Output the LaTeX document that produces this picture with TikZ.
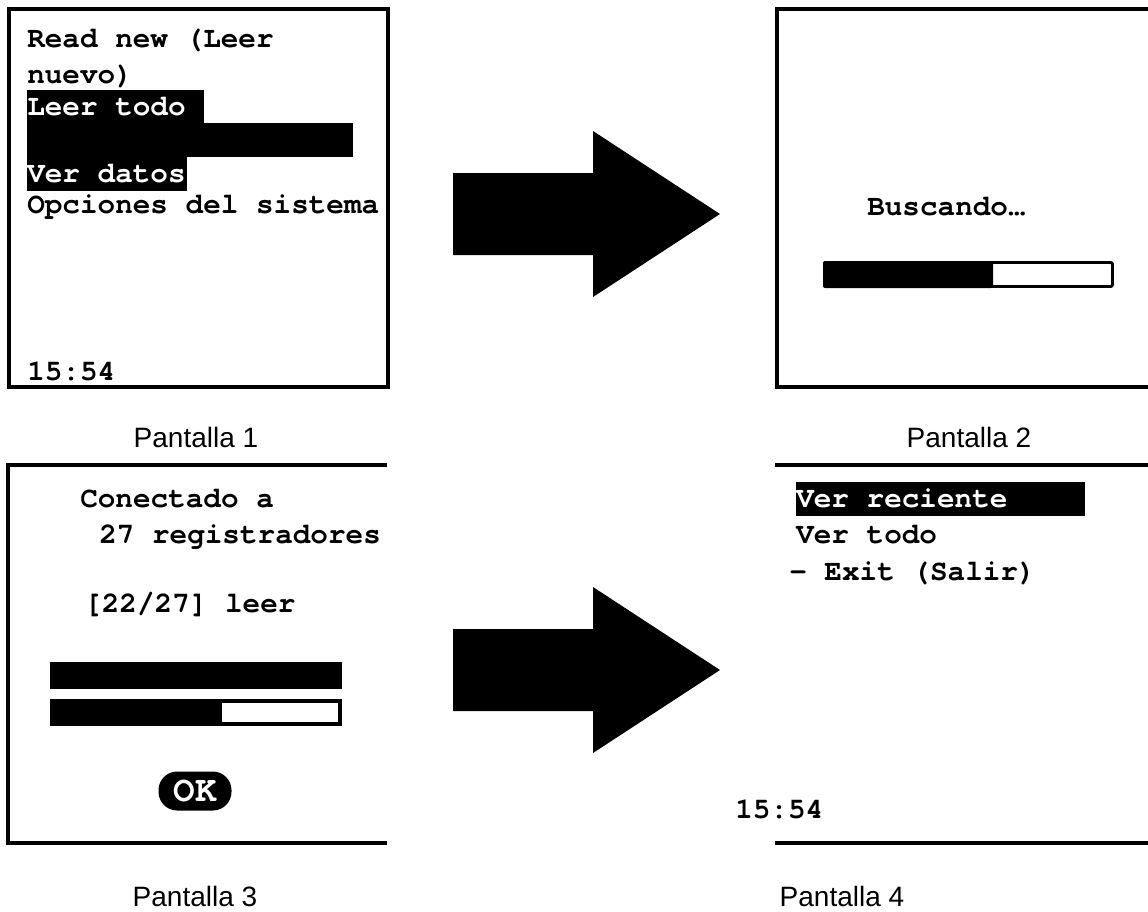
\documentclass[tikz,border=0pt]{standalone}
\usepackage{fontspec}
\setmainfont{Liberation Sans}
\newfontfamily\lcdfont{TeX Gyre Cursor}
\usetikzlibrary{positioning}

\tikzset{
  lcd/.style={anchor=base west, inner sep=0pt, font=\lcdfont\bfseries\fontsize{22}{26}\selectfont},
  lcdinv/.style={lcd, text=white},
  caption/.style={anchor=base, inner sep=0pt, font=\fontsize{21}{25}\selectfont},
  frame/.style={line width=3pt},
}

\begin{document}
\begin{tikzpicture}[x=0.75pt, y=-0.75pt]
  \useasboundingbox (0,0) rectangle (1148,911);

  % Pantalla 1
  \draw[frame] (9,9) rectangle (388,387);
  \fill (27,90) rectangle (204,123);
  \fill (27,123) rectangle (353,157);
  \fill (27,157) rectangle (187,191);
  \node[lcd] (menuA) at (27,47) {Read new (Leer};
  \node[lcd] (menuB) at (27,83) {nuevo)};
  \node[lcdinv] (menuC) at (27,115) {Leer todo};
  \node[lcdinv] (menuD) at (27,182) {Ver datos};
  \node[lcd] (menuE) at (27,213) {Opciones del sistema};
  \node[lcd] (clockA) at (27,380) {15:54};
  \node[caption] (capA) at (196,447) {Pantalla 1};

  % Pantalla 2
  \draw[frame] (1152,9) -- (777,9) -- (777,387) -- (1152,387);
  \node[lcd] (search) at (867,215) {Buscando…};
  \draw[line width=2.2pt, rounded corners=1.5pt, fill=white] (824.5,262.5) rectangle (1112.5,286.5);
  \fill[rounded corners=1.5pt] (823,261) rectangle (993,288);
  \node[caption] (capB) at (969,447) {Pantalla 2};

  % Pantalla 3
  \draw[frame] (387,465) -- (8,465) -- (8,843) -- (387,843);
  \node[lcd] (connA) at (80,507) {Conectado a};
  \node[lcd] (connB) at (99,543) {27 registradores};
  \node[lcd] (count) at (84,612) {[22/27] leer};
  \fill (50,662) rectangle (342,689);
  \draw[line width=3pt, fill=white] (52,701) rectangle (340,724);
  \fill (50,699) rectangle (222,726);
  \node[fill=black, text=white, rounded corners=14pt, inner sep=0pt,
        minimum width=54.75pt, minimum height=29.25pt,
        font=\lcdfont\bfseries\fontsize{27}{30}\selectfont] (ok) at (195,791) {OK};
  \node[caption] (capC) at (195,906) {Pantalla 3};

  % Pantalla 4
  \draw[frame] (775,465) -- (1152,465);
  \draw[frame] (775,843) -- (1152,843);
  \fill (796,482) rectangle (1085,516);
  \node[lcdinv] (viewA) at (796,507) {Ver reciente};
  \node[lcd] (viewB) at (796,543) {Ver todo};
  \node[lcd] (viewC) at (789,580) {– Exit (Salir)};
  \node[lcd] (clockB) at (735,818) {15:54};
  \node[caption] (capD) at (842,906) {Pantalla 4};

  % flechas
  \foreach \y in {214,670}
    \fill (453,\y-41) -- (593,\y-41) -- (593,\y-83) -- (720,\y)
      -- (593,\y+83) -- (593,\y+41) -- (453,\y+41) -- cycle;
\end{tikzpicture}
\end{document}
